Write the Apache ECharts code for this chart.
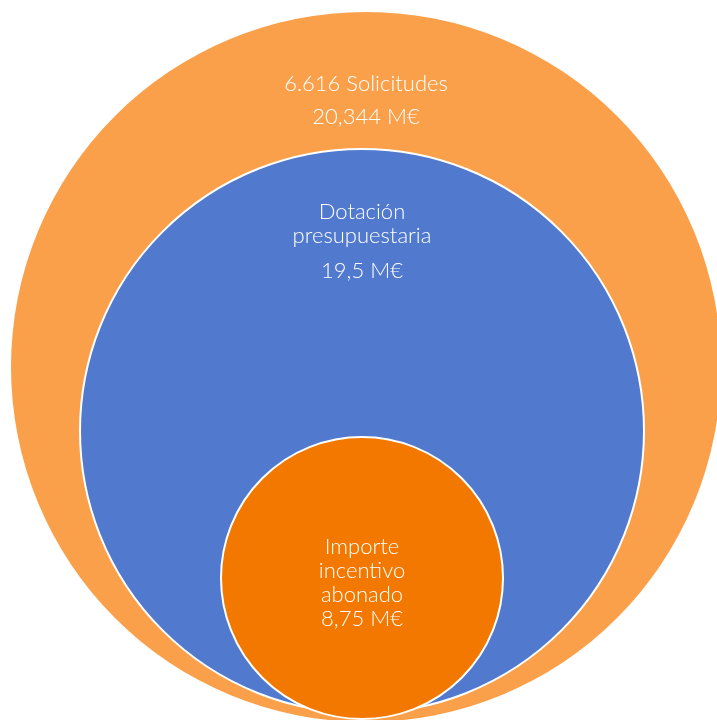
<html>
<head>
<meta charset="utf-8" />
<title>Solicitudes</title>
<script type="text/javascript" src="https://cdn.jsdelivr.net/npm/echarts@6/dist/echarts.min.js"></script>
<style>
  html, body { margin: 0; padding: 0; background: #fff; }
  #chart { width: 717px; height: 720px; }
</style>
</head>
<body>
<div id="chart"></div>
<script>
// data
var names = ['6.616 Solicitudes', 'Dotación\npresupuestaria', 'Importe\nincentivo\nabonado'];
var amounts = [20.344, 19.5, 8.75];

// layout (pixels) for the stacked circles
var centers = [[366, 367], [362, 431], [362, 578]];
var radii = [355, 282, 141];
var colors = ['#FBA04A', '#517ACF', '#F27800'];
var labelShift = [-265, -188, 5];
var amountGap = [6, 7, 0];

function fmt(v) {
    return String(v).replace('.', ',') + ' M€';
}

var font = 'Lato, "DejaVu Sans", sans-serif';

var series = [];
for (var i = 0; i < amounts.length; i++) {
    series.push({
        type: 'pie',
        center: centers[i],
        radius: [0, radii[i]],
        z: 2 + i,
        silent: true,
        animation: false,
        emphasis: { disabled: true },
        itemStyle: {
            color: colors[i],
            borderColor: '#ffffff',
            borderWidth: i === 0 ? 0 : 2
        },
        label: {
            show: true,
            position: 'center',
            color: '#ffffff',
            fontFamily: font,
            fontSize: 22,
            fontWeight: 300,
            lineHeight: 23,
            formatter: (function (gap) {
                return function (p) {
                    var lines = p.name.split('\n').map(function (s) { return '{n|' + s + '}'; });
                    return lines.join('\n') + '\n{v' + gap + '|' + fmt(p.value) + '}';
                };
            })(amountGap[i]),
            rich: (function (gap) {
                var r = { n: { color: '#fff', fontSize: 22, fontWeight: 300, fontFamily: font, lineHeight: 24 } };
                r['v' + gap] = { color: '#fff', fontSize: 22, fontWeight: 300, fontFamily: font, lineHeight: 24 + gap * 2, padding: [gap, 0, 0, 0] };
                return r;
            })(amountGap[i])
        },
        labelLine: { show: false },
        labelLayout: { dy: labelShift[i] },
        data: [{ name: names[i], value: amounts[i] }]
    });
}

var chart = echarts.init(document.getElementById('chart'));
chart.setOption({
    backgroundColor: '#ffffff',
    animation: false,
    series: series
});
</script>
</body>
</html>
